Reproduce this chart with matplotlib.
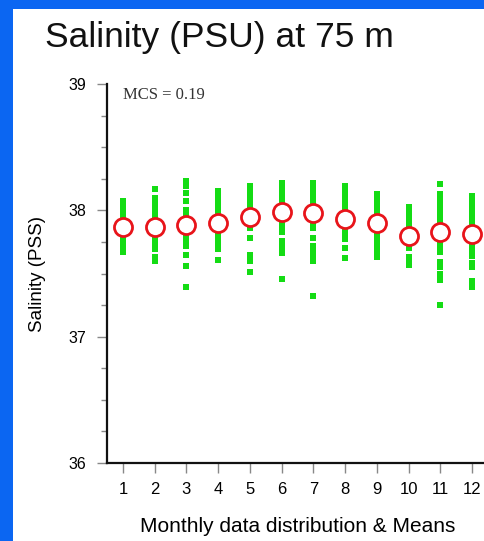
import numpy as np
import matplotlib.pyplot as plt
from matplotlib.patches import Rectangle

months = list(range(1, 13))
month_labels = [str(m) for m in months]

# individual salinity samples per month
sal_jan = [38.07, 38.05, 38.02, 38.00, 37.98, 37.95, 37.93, 37.90, 37.88, 37.85,
           37.83, 37.80, 37.78, 37.75, 37.73, 37.70, 37.67]
sal_feb = [38.17, 38.10, 38.08, 38.05, 38.03, 38.00, 37.98, 37.95, 37.92, 37.90,
           37.87, 37.85, 37.82, 37.80, 37.77, 37.75, 37.72, 37.69, 37.63, 37.60]
sal_mar = [38.23, 38.19, 38.14, 38.07, 38.00, 37.98, 37.95, 37.93, 37.90, 37.87,
           37.85, 37.82, 37.80, 37.77, 37.75, 37.72, 37.65, 37.56, 37.39]
sal_apr = [38.15, 38.12, 38.10, 38.07, 38.05, 38.00, 37.97, 37.94, 37.91, 37.88,
           37.85, 37.83, 37.80, 37.77, 37.75, 37.72, 37.69, 37.61]
sal_may = [38.19, 38.17, 38.14, 38.12, 38.09, 38.07, 38.04, 38.02, 37.99, 37.97,
           37.94, 37.92, 37.89, 37.86, 37.78, 37.65, 37.62, 37.60, 37.51]
sal_jun = [38.22, 38.19, 38.17, 38.14, 38.12, 38.09, 38.07, 38.04, 38.02, 37.99,
           37.97, 37.94, 37.91, 37.88, 37.85, 37.83, 37.76, 37.72, 37.69, 37.66, 37.46]
sal_jul = [38.22, 38.19, 38.17, 38.14, 38.12, 38.09, 38.07, 38.04, 38.02, 37.99,
           37.96, 37.94, 37.91, 37.88, 37.86, 37.78, 37.72, 37.69, 37.66, 37.63,
           37.60, 37.32]
sal_aug = [38.19, 38.16, 38.14, 38.11, 38.09, 38.06, 38.04, 38.01, 37.99, 37.96,
           37.93, 37.91, 37.88, 37.85, 37.83, 37.80, 37.77, 37.70, 37.62]
sal_sep = [38.13, 38.10, 38.08, 38.05, 38.03, 38.00, 37.97, 37.95, 37.92, 37.89,
           37.87, 37.84, 37.82, 37.79, 37.76, 37.74, 37.71, 37.68, 37.66, 37.63]
sal_oct = [38.03, 38.00, 37.98, 37.95, 37.92, 37.90, 37.87, 37.84, 37.82, 37.79,
           37.76, 37.74, 37.71, 37.70, 37.63, 37.60, 37.57]
sal_nov = [38.21, 38.13, 38.10, 38.08, 38.05, 38.03, 38.00, 37.97, 37.95, 37.92,
           37.89, 37.87, 37.84, 37.81, 37.79, 37.76, 37.73, 37.70, 37.67, 37.59,
           37.55, 37.50, 37.45, 37.25]
sal_dec = [38.11, 38.08, 38.06, 38.03, 38.01, 37.98, 37.95, 37.93, 37.90, 37.87,
           37.85, 37.82, 37.79, 37.77, 37.74, 37.71, 37.69, 37.66, 37.64, 37.58,
           37.55, 37.44, 37.39]

monthly_means = [37.865, 37.87, 37.88, 37.90, 37.945, 37.985,
                 37.98, 37.935, 37.90, 37.80, 37.825, 37.815]

samples = [sal_jan, sal_feb, sal_mar, sal_apr, sal_may, sal_jun,
           sal_jul, sal_aug, sal_sep, sal_oct, sal_nov, sal_dec]

fig = plt.figure(figsize=(4.84, 5.41), dpi=100, facecolor='#0b66f2')
W, H = 484, 541
# white slide panel behind everything
fig.patches.append(Rectangle((13 / W, 0), 1, 1 - 9 / H, transform=fig.transFigure,
                             facecolor='white', edgecolor='none', zorder=-10))

fig.text(45 / W, 1 - 47 / H, 'Salinity (PSU) at 75 m', fontsize=25.5,
         family='Liberation Sans', color='#111111', va='baseline')

ax = fig.add_axes([107 / W, 1 - 463 / H, 381 / W, 379 / H])
ax.set_zorder(2)
ax.set_facecolor('white')

for m, vals in zip(months, samples):
    ax.plot([m] * len(vals), vals, 's', color='#14dc14', markersize=4.2,
            markeredgewidth=0, zorder=2)

ax.plot(months, monthly_means, 'o', markersize=13, markerfacecolor='white',
        markeredgecolor='#e8141a', markeredgewidth=2.0, zorder=3, clip_on=False)

ax.set_xlim(0.5, 12.5)
ax.set_ylim(36, 39)
ax.set_xticks(months)
ax.set_xticklabels(month_labels, family='Liberation Sans', fontsize=12)
ax.set_yticks([36, 37, 38, 39])
ax.set_yticklabels(['36', '37', '38', '39'], family='Liberation Sans', fontsize=11.5)
ax.set_yticks(np.arange(36, 39.01, 0.25), minor=True)

for s in ['top', 'right']:
    ax.spines[s].set_visible(False)
for s in ['left', 'bottom']:
    ax.spines[s].set_linewidth(1.6)
    ax.spines[s].set_color('#111111')

ax.tick_params(axis='y', which='major', length=7, width=1, color='#888888', pad=8)
ax.tick_params(axis='y', which='minor', length=4, width=1, color='#888888')
ax.tick_params(axis='x', which='major', length=7, width=1, color='#888888', pad=7)

ax.set_ylabel('Salinity (PSS)', family='Liberation Sans', fontsize=13.5, labelpad=16)
ax.set_xlabel('Monthly data distribution & Means', family='Liberation Sans',
              fontsize=15, labelpad=14)

ax.text(1.0, 38.98, 'MCS = 0.19', family='Liberation Serif', fontsize=12,
        color='#333333', va='top', ha='left')

fig.savefig('out.png', dpi=100, facecolor=fig.get_facecolor())
